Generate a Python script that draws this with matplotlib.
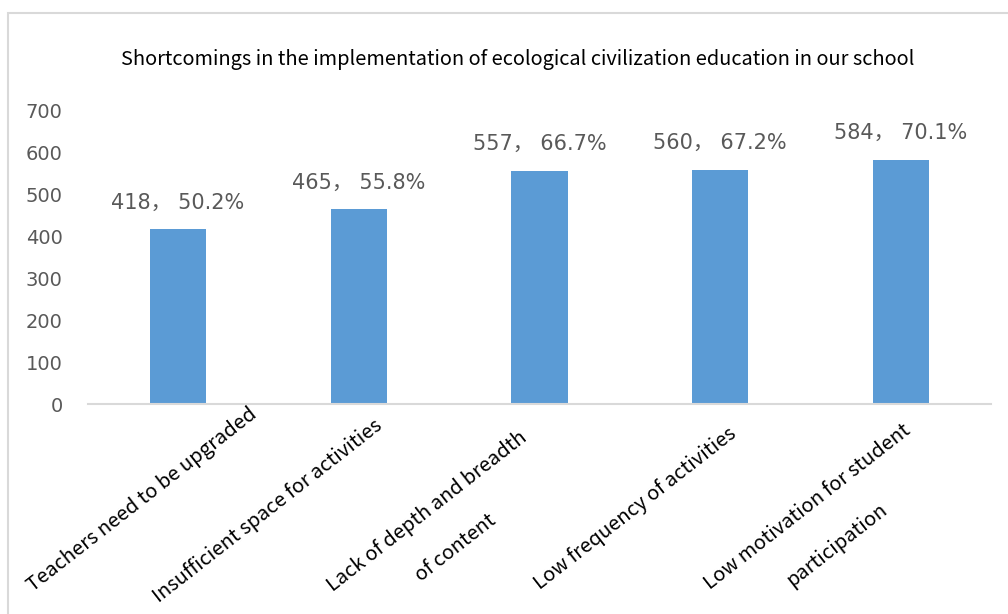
import matplotlib
matplotlib.use("Agg")
import numpy as np
import matplotlib.pyplot as plt
import matplotlib.patches as patches

# data
categories = [
    "Teachers need to be upgraded",
    "Insufficient space for activities",
    "Lack of depth and breadth\nof content",
    "Low frequency of activities",
    "Low motivation for student\nparticipation",
]
counts = [418, 465, 557, 560, 584]
percents = [50.2, 55.8, 66.7, 67.2, 70.1]
yticks = [0, 100, 200, 300, 400, 500, 600, 700]
title = "Shortcomings in the implementation of ecological civilization education in our school"

cjk = ['Noto Sans CJK SC', 'DejaVu Sans']
num = ['DejaVu Sans', 'Noto Sans CJK SC']
plt.rcParams['font.family'] = cjk

W, H = 1008, 614
fig = plt.figure(figsize=(W / 100, H / 100), dpi=100)

# chart frame (runs off the right and bottom of the picture)
frame = patches.Rectangle((8 / W, -0.1), 1.1, 1 - 13 / H + 0.1,
                          transform=fig.transFigure, fill=False,
                          edgecolor='#d9d9d9', linewidth=1.5)
fig.patches.append(frame)

ax = fig.add_axes([87.6 / W, 1 - 404 / H, (991.4 - 87.6) / W, (404 - 111) / H])

x = list(range(len(categories)))
ax.bar(x, counts, width=0.31, color='#5b9bd5')

ax.set_xlim(-0.5, len(categories) - 0.5)
ax.set_ylim(0, 700)
ax.set_yticks(yticks)
ax.set_yticklabels([str(t) for t in yticks], family=num)
ax.tick_params(axis='y', length=0, pad=18, labelsize=14, labelcolor='#595959')
ax.set_xticks([])

for side in ['top', 'right', 'left']:
    ax.spines[side].set_visible(False)
ax.spines['bottom'].set_color('#d9d9d9')
ax.spines['bottom'].set_linewidth(1.5)

# value labels
for xi, c, p in zip(x, counts, percents):
    ax.annotate(f"{c}， {p:.1f}%", xy=(xi, c), xytext=(0, 12),
                textcoords='offset points', ha='center', va='bottom',
                fontsize=15, color='#595959', family=num)

# rotated category labels (Excel nudges them; first one pushed right to stay inside the frame)
# second lines are drawn on their own, centred under the first, so the boxes stay tight
ang = 38
a = np.radians(ang)
renderer = fig.canvas.get_renderer()
dx = [0.39, 0.083, -0.116, 0.039, 0.006]
dy = [0, -26, -55, -45, -38]
gap = [0, 0, 46, 0, 48]   # px between the two lines
for xi, lab, sx, sy, g in zip(x, categories, dx, dy, gap):
    lines = lab.split('\n')
    t = ax.text(xi + sx, sy, lines[0], rotation=ang, rotation_mode='anchor',
                ha='right', va='top', fontsize=14.5, color='black')
    if len(lines) > 1:
        prop = t.get_fontproperties()
        w1 = renderer.get_text_width_height_descent(lines[0], prop, ismath=False)[0]
        w2 = renderer.get_text_width_height_descent(lines[1], prop, ismath=False)[0]
        along = -(w1 - w2) / 2
        ox = along * np.cos(a) + g * np.sin(a)
        oy = along * np.sin(a) - g * np.cos(a)
        ax.annotate(lines[1], xy=(xi + sx, sy), xytext=(ox * 0.72, oy * 0.72),
                    textcoords='offset points', rotation=ang, rotation_mode='anchor',
                    ha='right', va='top', fontsize=14.5, color='black',
                    annotation_clip=False)

fig.text(518 / W, 1 - 60 / H, title, ha='center', va='center',
         fontsize=14.4, color='black')

fig.savefig('out.png', dpi=100)
